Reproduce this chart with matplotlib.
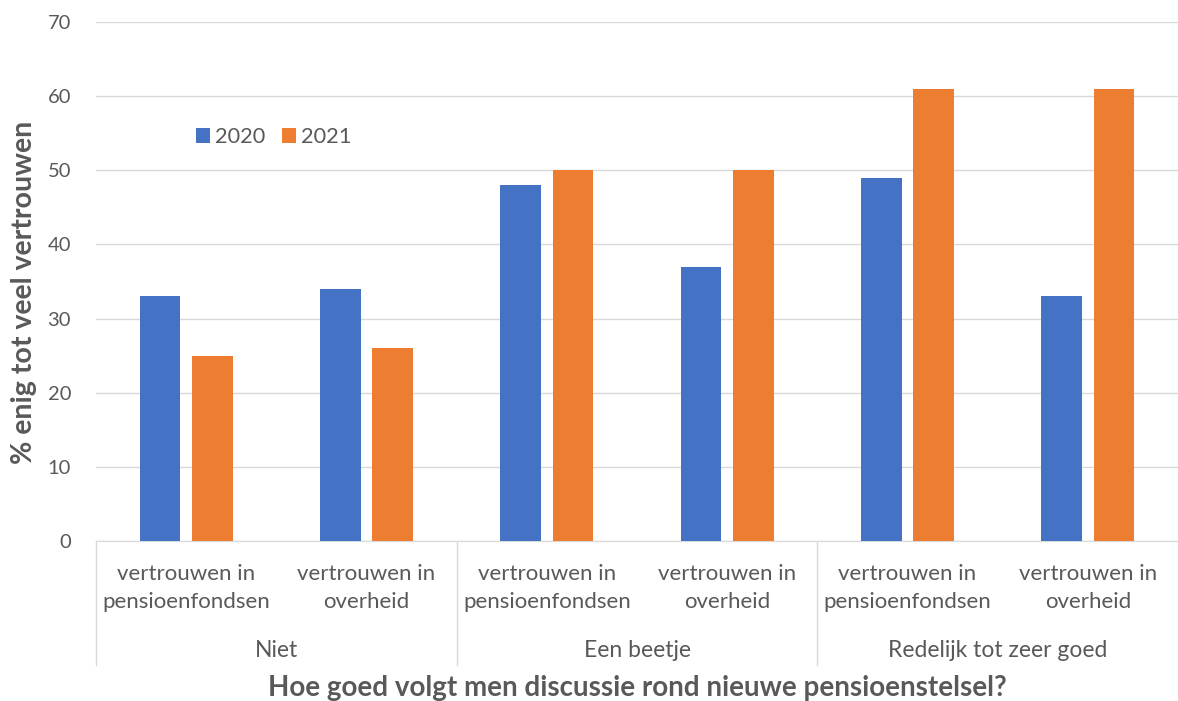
import matplotlib.pyplot as plt
import numpy as np

categories = ["vertrouwen in\npensioenfondsen", "vertrouwen in\noverheid"] * 3
groups = ["Niet", "Een beetje", "Redelijk tot zeer goed"]
values_2020 = [33, 34, 48, 37, 49, 33]
values_2021 = [25, 26, 50, 50, 61, 61]
series_names = ["2020", "2021"]
yticks = [0, 10, 20, 30, 40, 50, 60, 70]

blue = "#4472C4"
orange = "#ED7D31"
grey_text = "#595959"
grid_col = "#D9D9D9"

plt.rcParams["font.family"] = ["Lato", "DejaVu Sans"]

fig = plt.figure(figsize=(11.78, 7.01), dpi=100)
ax = fig.add_axes([0.0815, 0.2282, 0.9185, 0.7404])

x = np.arange(len(categories))
w = 0.227
off = 0.145
ax.bar(x - off, values_2020, w, color=blue, label=series_names[0], zorder=3)
ax.bar(x + off, values_2021, w, color=orange, label=series_names[1], zorder=3)

ax.set_xlim(-0.5, len(categories) - 0.5)
ax.set_ylim(0, 70)
ax.set_yticks(yticks)
ax.yaxis.grid(True, color=grid_col, linewidth=1, zorder=0)
ax.tick_params(axis="y", length=0, labelsize=14.5, labelcolor=grey_text, pad=18)
ax.set_xticks([])
for s in ["top", "right", "left"]:
    ax.spines[s].set_visible(False)
ax.spines["bottom"].set_color(grid_col)

# category labels and group separators under the axis
trans = ax.get_xaxis_transform()
for i, lab in enumerate(categories):
    ax.text(i, -0.045, lab, transform=trans, ha="center", va="top",
            fontsize=16, color=grey_text, linespacing=1.45)
for g, name in enumerate(groups):
    ax.text(2 * g + 0.5, -0.21, name, transform=trans, ha="center", va="center",
            fontsize=16.5, color=grey_text)
for xb in [-0.5, 1.5, 3.5]:
    ax.plot([xb, xb], [0, -0.239], transform=trans, color=grid_col,
            linewidth=1, clip_on=False)

ax.text(0.5, -0.283, "Hoe goed volgt men discussie rond nieuwe pensioenstelsel?",
        transform=ax.transAxes, ha="center", va="center", fontsize=20,
        fontweight="bold", color=grey_text)
fig.text(0.02, 0.583, "% enig tot veel vertrouwen", rotation=90, ha="center",
         va="center", fontsize=20.5, fontweight="bold", color=grey_text)

ax.legend(loc="center left", bbox_to_anchor=(0.0924, 0.778), ncol=2, frameon=False,
          fontsize=15.7, labelcolor=grey_text, handlelength=0.65, handleheight=0.65,
          handletextpad=0.2, columnspacing=0.8, borderpad=0, borderaxespad=0)

fig.savefig("out.png", dpi=100)
